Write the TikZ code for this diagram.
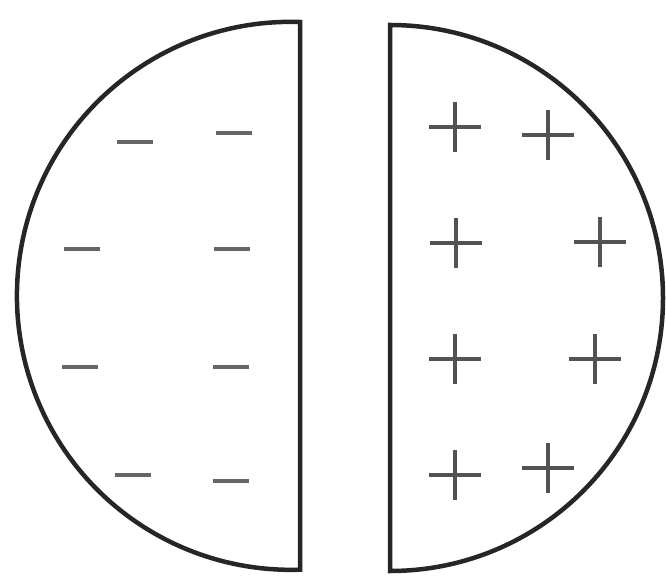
\documentclass[tikz,border=0pt]{standalone}
\begin{document}
\begin{tikzpicture}[x=1pt,y=1pt,
  half/.style={draw=black!85,line width=4.5pt,line join=miter},
  minus/.style={draw=black!60,line width=3.5pt},
  plus/.style={draw=black!68,line width=3.5pt}]
\useasboundingbox (0,0) rectangle (666,576);
% left half (negative)
\draw[half] (300,554) arc[start angle=88.1,end angle=271.9,radius=274] -- cycle;
% right half (positive)
\draw[half] (390,551) arc[start angle=90,end angle=-90,radius=273] -- cycle;
% minus signs
\foreach \x/\y in {135/434,234/443,82/327,232/327,80/209,231/209,133/101,231/95}
  \draw[minus] (\x-18,\y) -- (\x+18,\y);
% plus signs
\foreach \x/\y in {455/449,548/441,456/333,600/334,455/217,595/217,455/101,548/108}
  {\draw[plus] (\x-26,\y) -- (\x+26,\y);
   \draw[plus] (\x,\y-25) -- (\x,\y+25);}
\end{tikzpicture}
\end{document}
